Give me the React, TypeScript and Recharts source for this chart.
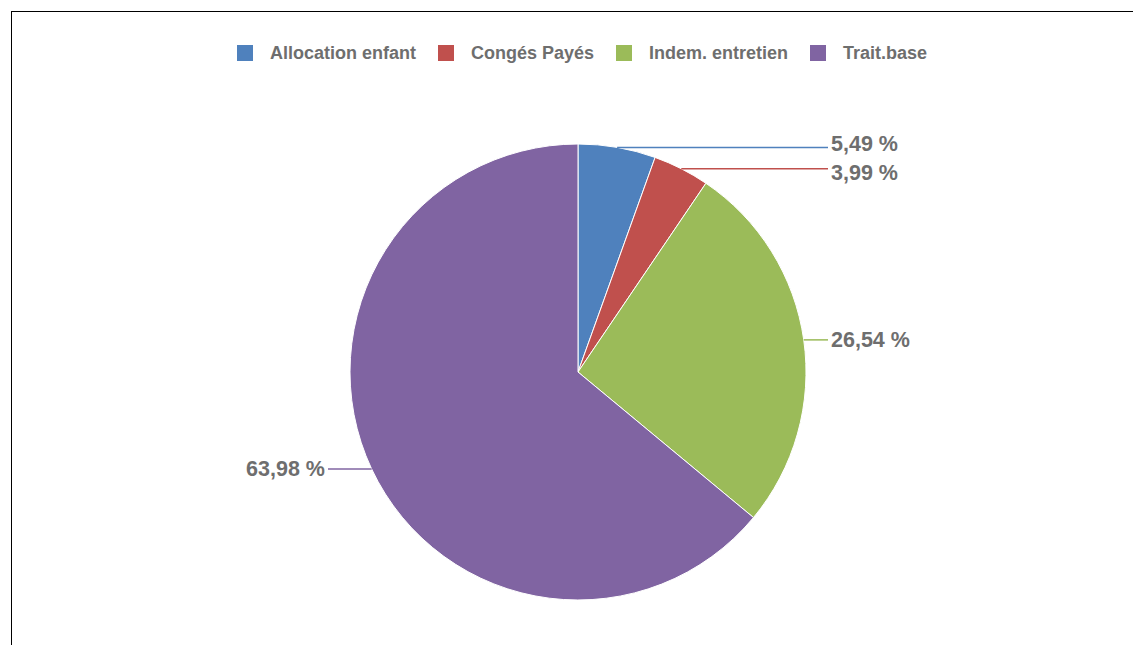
import { PieChart, Pie, Cell } from "recharts";

const categories = ["Allocation enfant", "Congés Payés", "Indem. entretien", "Trait.base"];
const shares = [5.49, 3.99, 26.54, 63.98];
const colors = ["#4F81BD", "#C0504D", "#9BBB59", "#8064A2"];

const data = categories.map((name, i) => ({ name, value: shares[i] }));

const CX = 566;
const CY = 360;
const R = 228;
const TEXT = "#6e6e6e";
const FONT = "'Liberation Sans', Arial, sans-serif";

const fmt = (v: number) => v.toFixed(2).replace(".", ",") + " %";

// anchor points of each slice on the rim, plus label y spread to avoid overlap
function labelLayout() {
	const total = shares.reduce((a, b) => a + b, 0);
	let acc = 0;
	const pts = shares.map((v) => {
		const mid = (acc + v / 2) / total;
		acc += v;
		const a = mid * 2 * Math.PI;
		const x = CX + R * Math.sin(a);
		const y = CY - R * Math.cos(a);
		return { x, y, right: x >= CX, ty: y };
	});
	const gap = 29;
	[true, false].forEach((side) => {
		const list = pts.filter((p) => p.right === side).sort((a, b) => a.ty - b.ty);
		for (let k = 1; k < list.length; k++) {
			const d = list[k].ty - list[k - 1].ty;
			if (d < gap) {
				const push = (gap - d) / 2;
				list[k - 1].ty -= push;
				list[k].ty += push;
			}
		}
	});
	return pts;
}

const layout = labelLayout();

const renderLabel = (props: any) => {
	const { index } = props;
	const p = layout[index];
	const endX = p.right ? CX + 250 : CX - 250;
	return (
		<g key={`lbl-${index}`}>
			<polyline
				points={`${p.x},${p.y} ${endX},${p.y}`}
				fill="none"
				stroke={colors[index]}
				strokeWidth={1.5}
			/>
			<text
				x={p.right ? endX + 3 : endX - 3}
				y={p.ty}
				textAnchor={p.right ? "start" : "end"}
				dominantBaseline="central"
				fill={TEXT}
				fontSize={21.5}
				fontWeight="bold"
				fontFamily={FONT}>
				{fmt(shares[index])}
			</text>
		</g>
	);
};

export default function App() {
	return (
		<div
			style={{
				position: "fixed",
				left: 0,
				top: 0,
				width: 1133,
				height: 645,
				overflow: "hidden",
				background: "#fff",
			}}>
			<div
				style={{
					position: "absolute",
					left: 11,
					top: 11,
					width: 1200,
					height: 700,
					borderLeft: "1px solid #000",
					borderTop: "1px solid #000",
				}}
			/>
			<div
				style={{
					position: "absolute",
					left: 0,
					top: 44,
					width: 1164,
					display: "flex",
					justifyContent: "center",
					fontFamily: FONT,
					fontWeight: "bold",
					fontSize: 18,
					color: TEXT,
				}}>
				{categories.map((c, i) => (
					<div key={c} style={{ display: "flex", alignItems: "center", marginLeft: i ? 22 : 0 }}>
						<span style={{ width: 16, height: 16, background: colors[i], display: "inline-block", marginRight: 17 }} />
						<span style={{ lineHeight: "18px" }}>{c}</span>
					</div>
				))}
			</div>
			<div style={{ position: "absolute", left: 12, top: 12 }}>
				<PieChart width={1122} height={634} margin={{ top: 0, right: 0, bottom: 0, left: 0 }}>
					<Pie
						data={data}
						dataKey="value"
						nameKey="name"
						cx={CX}
						cy={CY}
						outerRadius={R}
						startAngle={90}
						endAngle={-270}
						stroke="#ffffff"
						strokeWidth={1}
						label={renderLabel}
						labelLine={false}
						isAnimationActive={false}>
						{data.map((d, i) => (
							<Cell key={d.name} fill={colors[i]} />
						))}
					</Pie>
				</PieChart>
			</div>
		</div>
	);
}
